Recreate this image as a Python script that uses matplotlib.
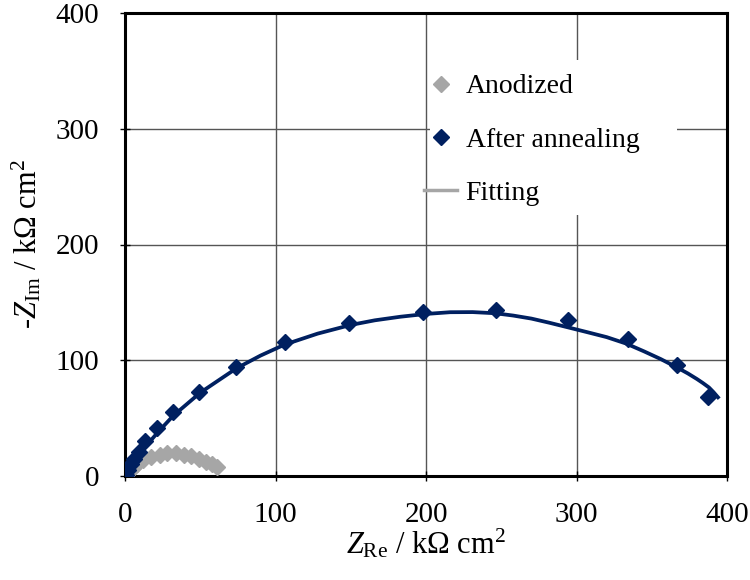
import matplotlib
matplotlib.use('Agg')
import matplotlib.pyplot as plt
from matplotlib.patches import Rectangle

plt.rcParams['font.family'] = ['Liberation Serif', 'DejaVu Serif']
plt.rcParams['mathtext.fontset'] = 'custom'
plt.rcParams['mathtext.rm'] = 'Liberation Serif'
plt.rcParams['mathtext.it'] = 'Liberation Serif:italic'

# Anodized data
anod_x = [1, 3, 5, 8, 12, 17, 23, 28, 34, 39, 44, 49, 54, 58, 61]
anod_y = [1.5, 4, 7, 10, 13.5, 16.5, 18.5, 19.5, 19.5, 18.5, 17, 15, 12.5, 10, 8]
anod_fit_x = [0, 2, 5, 9, 14, 20, 27, 34, 41, 48, 54, 59, 62]
anod_fit_y = [0, 3, 7, 11, 15, 18, 19.5, 19.5, 18, 15.5, 12.5, 9.5, 7.5]

# After annealing data
ann_x = [0.5, 2, 4, 6, 9, 13.5, 21, 32, 49, 74, 106, 149, 198, 246.5, 294.5, 334, 367, 387.5]
ann_y = [0.5, 5, 10, 15, 21, 30, 41.5, 55.5, 73, 94, 115.5, 132, 141.5, 143.4, 134.8, 118.4, 95.9, 68.5]
ann_fit_x = [0, 3, 8, 14, 22, 32, 50, 74, 90, 106, 128, 150, 166, 183, 200, 216, 231, 246,
             258, 270, 282, 295, 307, 320, 333, 345, 356, 367, 374, 380, 384, 388, 391, 394]
ann_fit_y = [0, 6, 16, 26, 38, 52, 72, 93, 104, 113.5, 123, 130.5, 134.5, 137.6, 140, 141.5, 141.6, 140.6,
             138.6, 136, 132.4, 128.2, 124.3, 120, 114.4, 107.6, 101, 93.6, 88.6, 83.8, 80.3, 76.5, 72.5, 68]

labels = ['Anodized', 'After annealing', 'Fitting']
xticks = [0, 100, 200, 300, 400]
yticks = [0, 100, 200, 300, 400]

grey = '#A6A6A6'
navy = '#002060'

W, H = 750, 580
fig = plt.figure(figsize=(7.5, 5.8), dpi=100)
ax = fig.add_axes([125/W, 1-476/H, (727-125)/W, (476-13)/H])

fit_a, = ax.plot(anod_fit_x, anod_fit_y, color=grey, lw=2.5, zorder=2)
pts_a, = ax.plot(anod_x, anod_y, 'D', color=grey, ms=8.5, lw=0, zorder=3)
pts_b, = ax.plot(ann_x, ann_y, 'D', color=navy, ms=8.5, lw=0, zorder=4)
ax.plot(ann_fit_x, ann_fit_y, color=navy, lw=2.7, zorder=5, solid_joinstyle='round')

ax.set_xlim(0, 400)
ax.set_ylim(0, 400)
ax.set_xticks(xticks)
ax.set_yticks(yticks)
ax.grid(True, color='#555555', lw=1)
ax.set_axisbelow(True)
for s in ax.spines.values():
    s.set_linewidth(2.2)
    s.set_color('black')
ax.tick_params(direction='inout', length=7, width=1, labelsize=21)
ax.tick_params(axis='x', pad=15)
ax.tick_params(axis='y', pad=15)

# legend background box (hides grid lines behind the legend)
ax.add_patch(Rectangle((430/W, 1-215/H), (677-430)/W, (215-60)/H,
                       transform=fig.transFigure, facecolor='white',
                       edgecolor='none', zorder=1))

ax.set_xlabel(r'$Z_{\mathrm{Re}}$ / kΩ cm$^2$', fontsize=22)
ax.set_ylabel(r'-$Z_{\mathrm{Im}}$ / kΩ cm$^2$', fontsize=22)
ax.xaxis.set_label_coords(0.5, -(527-476)/463)
ax.yaxis.set_label_coords(-(125-44)/602, 0.5)

leg = ax.legend([pts_a, pts_b, fit_a], labels, loc='upper left',
                bbox_to_anchor=(424/W, 1-74/H), bbox_transform=fig.transFigure,
                borderaxespad=0, borderpad=0, fontsize=20, frameon=False,
                handlelength=1.2, handletextpad=0.3, labelspacing=1.0)

fig.savefig('out.png', dpi=100)
